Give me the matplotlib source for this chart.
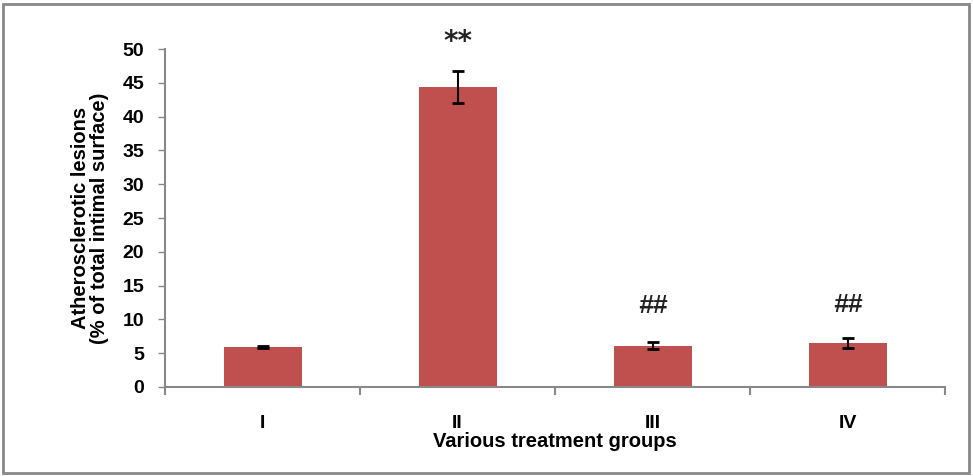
import matplotlib.pyplot as plt
from matplotlib.patches import Rectangle

groups = ["I", "II", "III", "IV"]
lesions = [5.9, 44.4, 6.1, 6.5]
errors = [0.1, 2.4, 0.55, 0.75]
marks = ["", "**", "##", "##"]
mark_y = [0, 51.0, 12.0, 12.2]

plt.rcParams["font.family"] = ["Liberation Sans", "DejaVu Sans"]
plt.rcParams["font.weight"] = "bold"

fig = plt.figure(figsize=(9.73, 4.76), dpi=100)
ax = fig.add_axes([0.1696, 0.187, 0.8018, 0.710])

x = list(range(len(groups)))
ax.bar(x, lesions, width=0.4, color="#c0504d", zorder=2)
ax.errorbar(x, lesions, yerr=errors, fmt="none", ecolor="black",
            elinewidth=1.5, capsize=4, capthick=2, zorder=3)

for xi, m, my in zip(x, marks, mark_y):
    if m == "**":
        ax.text(xi, my, m, ha="center", va="center", fontsize=20,
                color="#222222", fontweight="bold", family="DejaVu Sans")
    elif m:
        ax.text(xi, my, m, ha="center", va="center", fontsize=19,
                color="#222222", fontweight="bold", style="italic")

ax.set_xlim(-0.5, len(groups) - 0.5)
ax.set_ylim(0, 50)
ax.set_yticks(range(0, 51, 5))
ax.set_xticks(x)
ax.set_xticklabels(groups)
ax.set_xticks([i - 0.5 for i in range(len(groups) + 1)], minor=True)
ax.tick_params(axis="x", which="major", length=0, pad=20, labelsize=14)
ax.tick_params(axis="x", which="minor", length=6, width=1.5, color="#888888", direction="out")
ax.tick_params(axis="y", length=5, width=1, color="#888888", labelsize=14, pad=10)

for side in ["top", "right"]:
    ax.spines[side].set_visible(False)
for side in ["left", "bottom"]:
    ax.spines[side].set_color("#888888")
    ax.spines[side].set_linewidth(1.5)

ax.set_xlabel("Various treatment groups", fontsize=14.5, fontweight="bold", labelpad=0)
ax.set_ylabel("Atherosclerotic lesions\n(% of total intimal surface)",
              fontsize=14.5, fontweight="bold", labelpad=10, linespacing=1.0)

fig.patches.append(Rectangle((0.003, 0.007), 0.993, 0.985, transform=fig.transFigure,
                             fill=False, edgecolor="#888888", linewidth=2))

fig.savefig("out.png", dpi=100)
